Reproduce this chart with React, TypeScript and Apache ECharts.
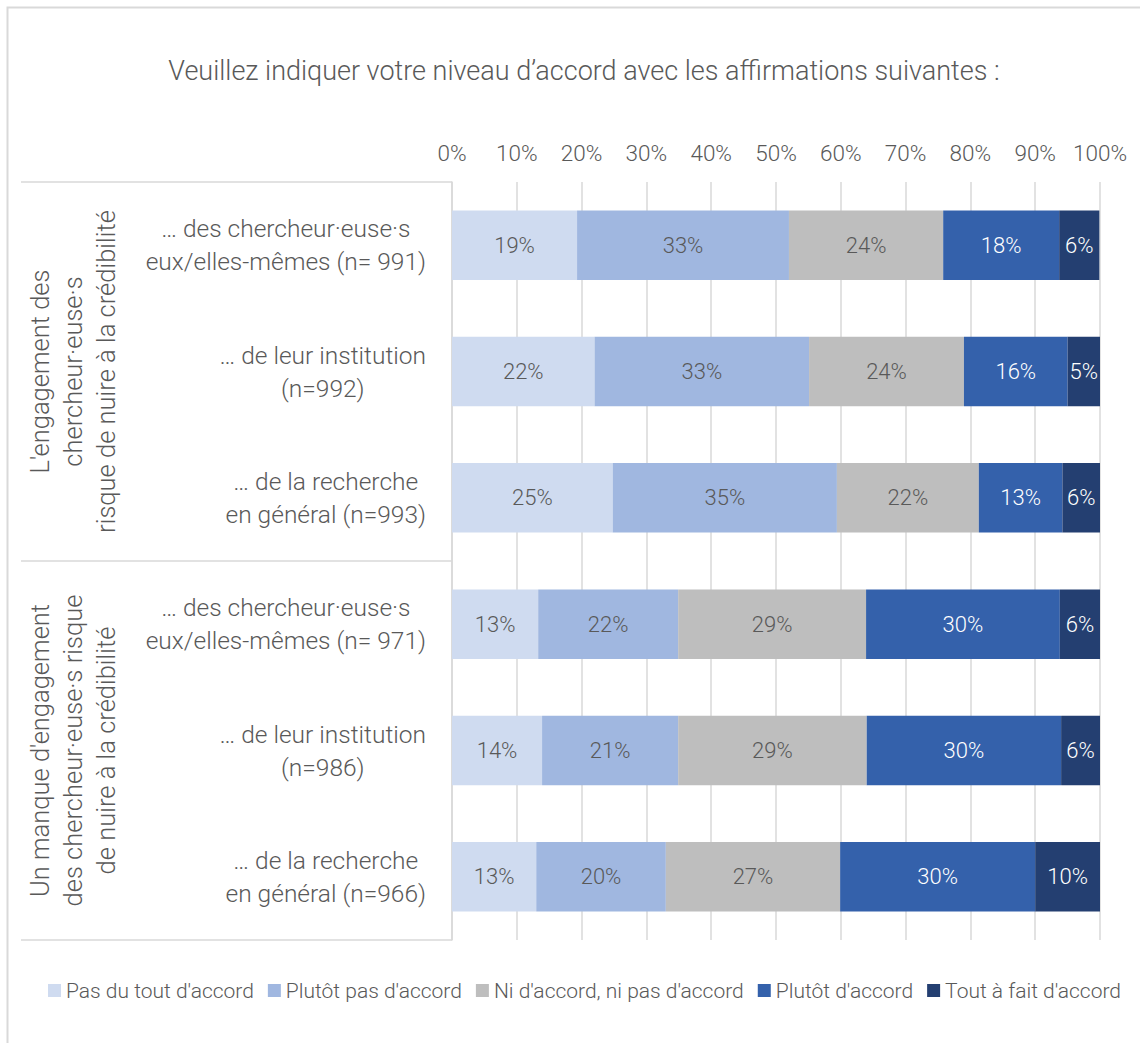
import React, { useEffect, useRef } from "react";
import * as echarts from "echarts";

const FONT = "Roboto";
const TEXT = "#595959";
const GRID_LINE = "#D9D9D9";

const titleText = "Veuillez indiquer votre niveau d’accord avec les affirmations suivantes :";

const categories = [
  "… des chercheur·euse·s\neux/elles-mêmes (n= 991)",
  "… de leur institution\n(n=992)",
  "… de la recherche\nen général (n=993)",
  "… des chercheur·euse·s\neux/elles-mêmes (n= 971)",
  "… de leur institution\n(n=986)",
  "… de la recherche\nen général (n=966)",
];

const groups = [
  "L'engagement des\nchercheur·euse·s\nrisque de nuire à la crédibilité",
  "Un manque d'engagement\ndes chercheur·euse·s risque\nde nuire à la crédibilité",
];

const seriesNames = [
  "Pas du tout d'accord",
  "Plutôt pas d'accord",
  "Ni d'accord, ni pas d'accord",
  "Plutôt d'accord",
  "Tout à fait d'accord",
];

const pasDuTout = [19.3, 22.0, 24.8, 13.3, 13.9, 13.0];
const plutotPas = [32.7, 33.1, 34.6, 21.6, 21.0, 20.0];
const niNi = [23.8, 23.9, 21.9, 29.0, 29.1, 26.9];
const plutot = [17.9, 16.0, 12.9, 29.9, 30.0, 30.1];
const toutAFait = [6.2, 5.0, 5.9, 6.2, 6.0, 10.0];

const seriesValues = [pasDuTout, plutotPas, niNi, plutot, toutAFait];
const colors = ["#CFDBF0", "#A0B7E0", "#BEBEBE", "#3461AB", "#243F71"];
const labelColors = [TEXT, TEXT, TEXT, "#FFFFFF", "#FFFFFF"];

const xTicks = { min: 0, max: 100, interval: 10 };

function centeredLines(s: string) {
  return s
    .split("\n")
    .map((l) => `{c|${l}}`)
    .join("\n");
}

export default function App() {
  const ref = useRef<HTMLDivElement>(null);
  useEffect(() => {
    if (!ref.current) return;
    const chart = echarts.init(ref.current, undefined, { renderer: "svg" });
    const option: any = {
      animation: false,
      backgroundColor: "#FFFFFF",
      textStyle: { fontFamily: FONT, fontWeight: 300 },
      title: {
        text: titleText,
        left: 579,
        textAlign: "center",
        top: 52,
        textStyle: { fontFamily: FONT, fontWeight: 300, fontSize: 27, color: TEXT },
      },
      legend: {
        bottom: 37,
        left: 43,
        itemWidth: 13,
        itemHeight: 13,
        itemGap: 14,
        icon: "rect",
        textStyle: { fontFamily: FONT, fontWeight: 300, fontSize: 21, color: TEXT },
        data: seriesNames,
      },
      grid: { left: 452, right: 40, top: 182, bottom: 103, containLabel: false },
      xAxis: {
        type: "value",
        position: "top",
        min: xTicks.min,
        max: xTicks.max,
        interval: xTicks.interval,
        axisLine: { show: false },
        axisTick: { show: false },
        axisLabel: {
          formatter: "{value}%",
          fontFamily: FONT,
          fontWeight: 300,
          fontSize: 22.5,
          color: TEXT,
          margin: 18,
        },
        splitLine: { show: true, lineStyle: { color: GRID_LINE, width: 1.5 } },
      },
      yAxis: [
        {
          type: "category",
          inverse: true,
          data: categories,
          axisLine: { show: true, lineStyle: { color: GRID_LINE, width: 1.5 } },
          axisTick: { show: false },
          axisLabel: {
            margin: 26,
            formatter: (v: string) => centeredLines(v),
            rich: {
              c: {
                align: "center",
                fontFamily: FONT,
                fontWeight: 300,
                fontSize: 24.5,
                lineHeight: 33,
                color: TEXT,
              },
            },
          },
        },
        {
          type: "category",
          inverse: true,
          position: "left",
          offset: 431,
          data: groups,
          axisLine: { show: false },
          axisTick: {
            show: true,
            inside: true,
            length: 431,
            lineStyle: { color: GRID_LINE, width: 1.5 },
          },
          axisLabel: {
            inside: true,
            rotate: 90,
            margin: 2,
            formatter: (v: string) => centeredLines(v),
            rich: {
              c: {
                align: "center",
                fontFamily: FONT,
                fontWeight: 300,
                fontSize: 25.5,
                lineHeight: 33,
                color: TEXT,
              },
            },
          },
        },
      ],
      series: seriesNames.map((name, i) => ({
        name,
        type: "bar",
        stack: "total",
        yAxisIndex: 0,
        barWidth: "55%",
        data: seriesValues[i],
        itemStyle: { color: colors[i] },
        label: {
          show: true,
          position: "inside",
          formatter: (p: any) => `${Math.round(p.value)}%`,
          fontFamily: FONT,
          fontWeight: 300,
          fontSize: 22,
          color: labelColors[i],
        },
      })),
      graphic: [
        {
          type: "rect",
          shape: { x: 7.5, y: 7.5, width: 1150, height: 1060 },
          style: { fill: "none", stroke: GRID_LINE, lineWidth: 2 },
          silent: true,
        },
      ],
    };
    chart.setOption(option);
    return () => chart.dispose();
  }, []);
  return (
    <div
      ref={ref}
      style={{ position: "fixed", left: 0, top: 0, width: 1140, height: 1043 }}
    />
  );
}
